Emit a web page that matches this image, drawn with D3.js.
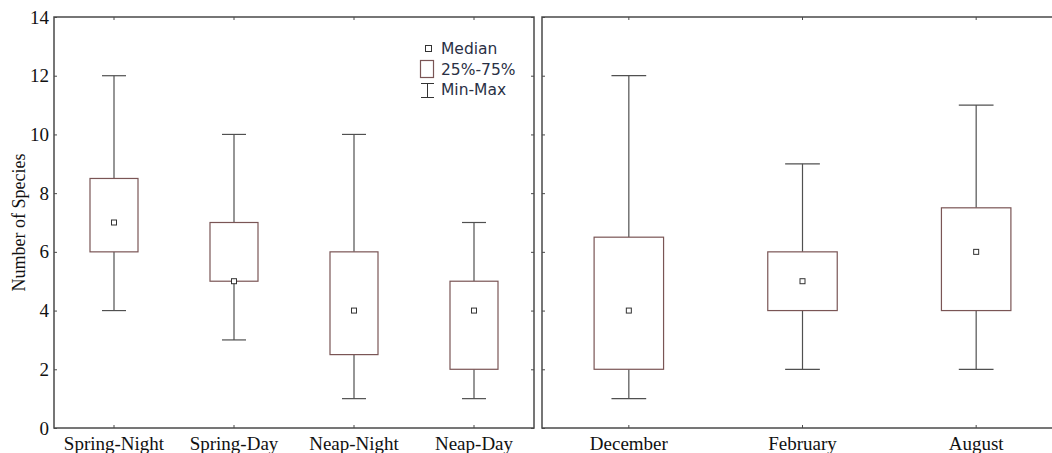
<!DOCTYPE html>
<html><head><meta charset="utf-8">
<script src="https://cdn.jsdelivr.net/npm/d3@7"></script>
<style>body{margin:0;background:#fff}svg{display:block}</style>
</head><body>
<svg id="c" width="1052" height="453"></svg>
<script>
const leftCategories = ["Spring-Night","Spring-Day","Neap-Night","Neap-Day"];
const leftMin    = [4, 3, 1, 1];
const leftQ1     = [6, 5, 2.5, 2];
const leftMedian = [7, 5, 4, 4];
const leftQ3     = [8.5, 7, 6, 5];
const leftMax    = [12, 10, 10, 7];

const rightCategories = ["December","February","August"];
const rightMin    = [1, 2, 2];
const rightQ1     = [2, 4, 4];
const rightMedian = [4, 5, 6];
const rightQ3     = [6.5, 6, 7.5];
const rightMax    = [12, 9, 11];

const yTicks = [0,2,4,6,8,10,12,14];
const legendLabels = ["Median","25%-75%","Min-Max"];

const svg = d3.select("#c");
const yTop = 17, yBottom = 428;
const y = d3.scaleLinear().domain([0,14]).range([yBottom, yTop]);

const frameColor = "#4a4a4a", whiskerColor = "#505050", boxColor = "#7a5555";
const serif = "'Liberation Serif','Times New Roman',serif";

function panel(x0, x1, cats, mn, q1, md, q3, mx, showYLabels) {
  const x = d3.scaleBand().domain(cats).range([x0, x1]);
  const bw = x.bandwidth();
  const boxW = bw * 0.4, capW = bw * 0.2;
  const g = svg.append("g");

  const axB = g.append("g").attr("transform", `translate(0,${yBottom})`)
    .call(d3.axisBottom(x).tickSizeInner(-3).tickSizeOuter(0).tickPadding(8));
  axB.select(".domain").remove();
  axB.selectAll("line").attr("stroke", frameColor);
  axB.selectAll("text").attr("font-family", serif).attr("font-size", 19).attr("fill", "#111").attr("dy", "0.74em");

  const axT = g.append("g").attr("transform", `translate(0,${yTop})`)
    .call(d3.axisTop(x).tickSizeInner(-3).tickSizeOuter(0).tickFormat(""));
  axT.select(".domain").remove();
  axT.selectAll("line").attr("stroke", frameColor);

  const axL = g.append("g").attr("transform", `translate(${x0},0)`)
    .call(d3.axisLeft(y).tickValues(yTicks).tickSizeInner(-3).tickSizeOuter(0).tickPadding(5)
      .tickFormat(showYLabels ? d3.format("d") : ""));
  axL.select(".domain").remove();
  axL.selectAll("line").attr("stroke", frameColor);
  axL.selectAll("text").attr("font-family", serif).attr("font-size", 19).attr("fill", "#111");

  const axR = g.append("g").attr("transform", `translate(${x1},0)`)
    .call(d3.axisRight(y).tickValues(yTicks).tickSizeInner(-3).tickSizeOuter(0).tickFormat(""));
  axR.select(".domain").remove();
  axR.selectAll("line").attr("stroke", frameColor);

  g.append("rect").attr("x", x0).attr("y", yTop).attr("width", x1 - x0).attr("height", yBottom - yTop)
    .attr("fill", "none").attr("stroke", frameColor).attr("stroke-width", 1.5);

  cats.forEach((c, i) => {
    const cx = x(c) + bw / 2;
    const bg = g.append("g");
    bg.append("line").attr("x1", cx).attr("x2", cx).attr("y1", y(mx[i])).attr("y2", y(q3[i]))
      .attr("stroke", whiskerColor).attr("stroke-width", 1.2);
    bg.append("line").attr("x1", cx).attr("x2", cx).attr("y1", y(q1[i])).attr("y2", y(mn[i]))
      .attr("stroke", whiskerColor).attr("stroke-width", 1.2);
    bg.append("line").attr("x1", cx - capW/2).attr("x2", cx + capW/2).attr("y1", y(mx[i])).attr("y2", y(mx[i]))
      .attr("stroke", whiskerColor).attr("stroke-width", 1.2);
    bg.append("line").attr("x1", cx - capW/2).attr("x2", cx + capW/2).attr("y1", y(mn[i])).attr("y2", y(mn[i]))
      .attr("stroke", whiskerColor).attr("stroke-width", 1.2);
    bg.append("rect").attr("x", cx - boxW/2).attr("y", y(q3[i])).attr("width", boxW)
      .attr("height", y(q1[i]) - y(q3[i])).attr("fill", "#fff").attr("stroke", boxColor).attr("stroke-width", 1.2);
    bg.append("rect").attr("x", cx - 2.5).attr("y", y(md[i]) - 2.5).attr("width", 5).attr("height", 5)
      .attr("fill", "#fff").attr("stroke", "#333").attr("stroke-width", 1);
  });
}

panel(54, 534, leftCategories, leftMin, leftQ1, leftMedian, leftQ3, leftMax, true);
panel(542, 1063, rightCategories, rightMin, rightQ1, rightMedian, rightQ3, rightMax, false);

svg.append("text").attr("transform", `translate(25,${(yTop+yBottom)/2}) rotate(-90)`)
  .attr("text-anchor", "middle").attr("font-family", serif).attr("font-size", 18).attr("fill", "#111")
  .text("Number of Species");

const lg = svg.append("g");
const sans = "'DejaVu Sans',Arial,sans-serif";
lg.append("rect").attr("x", 425.5).attr("y", 45.5).attr("width", 6).attr("height", 6)
  .attr("fill", "#fff").attr("stroke", "#333");
lg.append("rect").attr("x", 420.5).attr("y", 60.5).attr("width", 13).attr("height", 17)
  .attr("fill", "#fff").attr("stroke", boxColor).attr("stroke-width", 1.2);
lg.append("line").attr("x1", 421).attr("x2", 434).attr("y1", 83.5).attr("y2", 83.5).attr("stroke", "#333");
lg.append("line").attr("x1", 421).attr("x2", 434).attr("y1", 97.5).attr("y2", 97.5).attr("stroke", "#333");
lg.append("line").attr("x1", 427.5).attr("x2", 427.5).attr("y1", 83.5).attr("y2", 97.5).attr("stroke", "#333");
const ly = [54, 75, 95];
legendLabels.forEach((t, i) => {
  lg.append("text").attr("x", 441).attr("y", ly[i]).attr("font-family", sans).attr("font-size", 15.5)
    .attr("fill", "#2a3045").text(t);
});
</script>
</body></html>
